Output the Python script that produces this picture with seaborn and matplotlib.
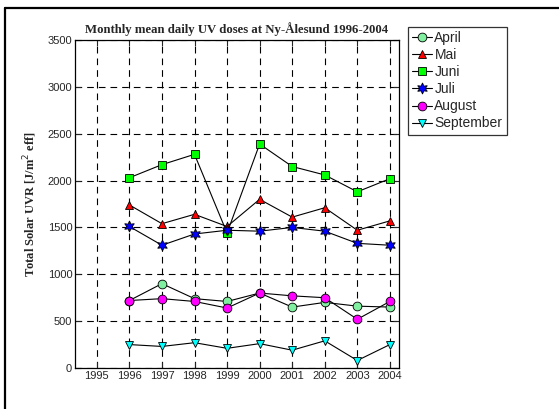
import matplotlib
matplotlib.use("Agg")
import matplotlib.pyplot as plt
import seaborn as sns
import numpy as np
from matplotlib.lines import Line2D

years = [1996, 1997, 1998, 1999, 2000, 2001, 2002, 2003, 2004]
april = [720, 900, 740, 710, 800, 650, 700, 660, 650]
mai = [1740, 1540, 1640, 1510, 1800, 1610, 1710, 1470, 1570]
juni = [2030, 2170, 2280, 1440, 2390, 2150, 2060, 1880, 2020]
juli = [1510, 1310, 1430, 1470, 1460, 1500, 1460, 1330, 1310]
august = [720, 740, 710, 640, 800, 770, 750, 520, 710]
september = [250, 230, 270, 210, 260, 190, 290, 80, 250]

series_names = ["April", "Mai", "Juni", "Juli", "August", "September"]
series_values = [april, mai, juni, juli, august, september]
series_colors = ["#80F0A0", "#FF0000", "#00FF00", "#0000FF", "#FF00FF", "#00FFFF"]
series_markers = ["o", "^", "s", (6, 1, 0), "o", "v"]

x_ticks = list(range(1995, 2005))
y_ticks = list(range(0, 3501, 500))

sns.set_style("ticks")
plt.rcParams["font.family"] = ["Liberation Sans", "DejaVu Sans"]

fig = plt.figure(figsize=(5.59, 4.09), dpi=100)
ax = fig.add_axes([75/559, 41/409, 324/559, 328/409])

def msize(mk):
    return 8 if mk == (6, 1, 0) else 6.3

for name, vals, col, mk in zip(series_names, series_values, series_colors, series_markers):
    sns.lineplot(x=years, y=vals, ax=ax, color="black", lw=0.8, marker=mk,
                 markersize=msize(mk), markerfacecolor=col, markeredgecolor="black",
                 markeredgewidth=0.6, label=name, legend=False)

ax.set_xlim(1994.33, 2004.28)
ax.set_ylim(0, 3500)
ax.set_xticks(x_ticks)
ax.set_xticklabels([str(t) for t in x_ticks], fontsize=8)
ax.set_yticks(y_ticks)
ax.set_yticklabels([str(t) for t in y_ticks], fontsize=8)
ax.tick_params(direction="in", top=True, right=True, length=4, width=0.8, pad=2)
ax.grid(True, color="black", linestyle=(0, (6, 4.5)), lw=0.8)
for s in ax.spines.values():
    s.set_linewidth(0.9)
    s.set_color("black")

ax.set_title("Monthly mean daily UV doses at Ny-Ålesund 1996-2004",
             family=["Liberation Serif"], fontweight="bold", fontsize=9.2, pad=5)
ax.set_ylabel("Total Solar UVR [J/m$^2$ eff]", family=["Liberation Serif"],
              fontweight="bold", fontsize=9, labelpad=6)

handles = [Line2D([], [], color="black", lw=0.8, marker=mk,
                  markersize=msize(mk), markerfacecolor=col,
                  markeredgecolor="black", markeredgewidth=0.6)
           for col, mk in zip(series_colors, series_markers)]
leg = fig.legend(handles, series_names, loc="upper left",
                 bbox_to_anchor=(408/559, 1 - 27/409), fontsize=10,
                 frameon=True, fancybox=False, edgecolor="black",
                 handlelength=1.4, handletextpad=0.2, borderpad=0.3,
                 labelspacing=0.22, borderaxespad=0)
leg.get_frame().set_linewidth(0.9)

# outer frame
fig.add_artist(Line2D([5/559, 5/559], [0, 1 - 8/409], transform=fig.transFigure,
                      color="black", lw=1.6))
fig.add_artist(Line2D([5/559, 1], [1 - 8/409, 1 - 8/409], transform=fig.transFigure,
                      color="black", lw=1.6))

fig.savefig("out.png", dpi=100)
